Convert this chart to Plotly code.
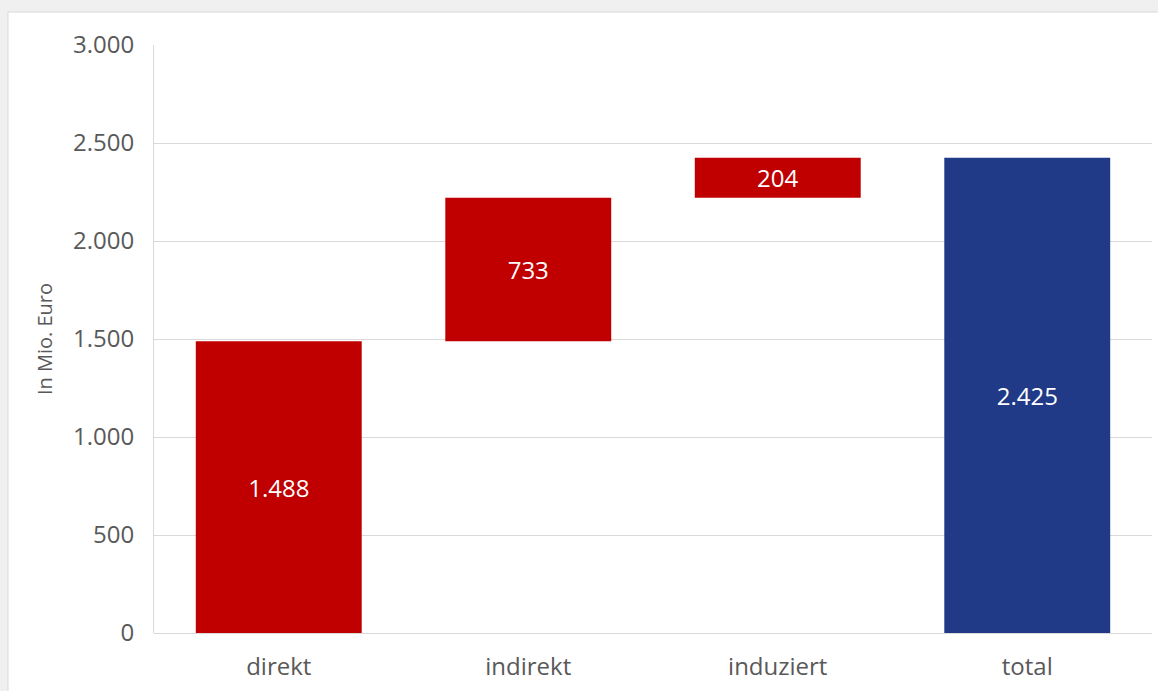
import plotly.graph_objects as go

categories = ["direkt", "indirekt", "induziert", "total"]
values = [1488, 733, 204, 2425]
measures = ["relative", "relative", "relative", "total"]
y_ticks = [0, 500, 1000, 1500, 2000, 2500, 3000]
y_tick_labels = ["0", "500", "1.000", "1.500", "2.000", "2.500", "3.000"]
y_title = "In Mio. Euro"

labels = [f"{v:,}".replace(",", ".") for v in values]

FONT = "Open Sans, Noto Sans, sans-serif"

fig = go.Figure(go.Waterfall(
    x=categories,
    y=values,
    measure=measures,
    text=labels,
    textposition="inside",
    insidetextanchor="middle",
    textfont=dict(color="white", size=24, family=FONT),
    increasing=dict(marker=dict(color="#C00000")),
    decreasing=dict(marker=dict(color="#C00000")),
    totals=dict(marker=dict(color="#203A88")),
    connector=dict(visible=False),
    width=0.665,
    hoverinfo="x+y",
))

ml, mr, mt, mb = 154, 6, 45, 58
W, H = 1158, 691
pw, ph = W - ml - mr, H - mt - mb

fig.add_shape(
    type="rect", xref="paper", yref="paper", layer="below",
    x0=(8 - ml) / pw, x1=(W + 5 - ml) / pw,
    y0=-(mb + 5) / ph, y1=1 + (mt - 12) / ph,
    fillcolor="white", line=dict(color="#d9d9d9", width=1),
)

fig.update_layout(
    width=W, height=H,
    margin=dict(l=ml, r=mr, t=mt, b=mb),
    paper_bgcolor="#f0f0f0",
    plot_bgcolor="white",
    showlegend=False,
    font=dict(family=FONT, color="#595959"),
    xaxis=dict(
        showgrid=False,
        ticks="outside", ticklen=12, tickcolor="rgba(0,0,0,0)",
        tickfont=dict(size=24, color="#595959"),
        showline=False,
    ),
    yaxis=dict(
        range=[0, 3000],
        tickvals=y_ticks, ticktext=y_tick_labels,
        showgrid=True, gridcolor="#d9d9d9", gridwidth=1,
        zeroline=True, zerolinecolor="#d9d9d9", zerolinewidth=1,
        showline=True, linecolor="#d9d9d9", linewidth=1,
        ticks="outside", ticklen=14, tickcolor="rgba(0,0,0,0)",
        tickfont=dict(size=24, color="#595959"),
        title=dict(text=y_title, font=dict(size=20, color="#595959"), standoff=14),
    ),
)

fig.write_html(
    "out.html",
    config={"displayModeBar": False},
    post_script="document.body.style.margin='0';document.body.style.background='#f0f0f0';",
)
